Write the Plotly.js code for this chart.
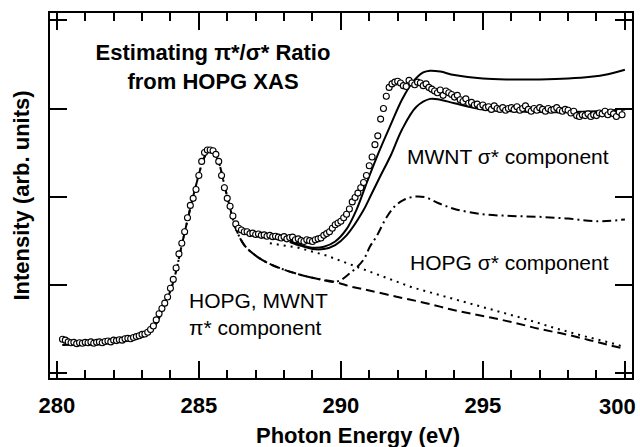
<!DOCTYPE html>
<html>
<head>
<meta charset="utf-8">
<script src="https://cdn.plot.ly/plotly-3.0.1.min.js"></script>
<style>html,body{margin:0;padding:0;background:#fff}#chart{width:640px;height:447px}</style>
</head>
<body>
<div id="chart"></div>
<script>
// Measured XAS data (open circles)
const dataEnergy = [280.2,280.3,280.4,280.5,280.6,280.7,280.8,280.9,281.0,281.1,281.2,281.3,281.4,281.5,281.6,281.7,281.8,281.9,282.0,282.1,282.2,282.3,282.4,282.5,282.6,282.7,282.8,282.9,283.0,283.1,283.2,283.3,283.4,283.5,283.6,283.7,283.8,283.9,284.0,284.1,284.2,284.3,284.4,284.5,284.6,284.7,284.8,284.9,285.0,285.1,285.2,285.3,285.4,285.5,285.6,285.7,285.8,285.9,286.0,286.1,286.2,286.3,286.4,286.5,286.6,286.7,286.8,286.9,287.0,287.1,287.2,287.3,287.4,287.5,287.6,287.7,287.8,287.9,288.0,288.1,288.2,288.3,288.4,288.5,288.6,288.7,288.8,288.9,289.0,289.1,289.2,289.3,289.4,289.5,289.6,289.7,289.8,289.9,290.0,290.1,290.2,290.3,290.4,290.5,290.6,290.7,290.8,290.9,291.0,291.1,291.2,291.3,291.4,291.5,291.6,291.7,291.8,291.9,292.0,292.1,292.2,292.3,292.4,292.5,292.6,292.7,292.8,292.9,293.0,293.1,293.2,293.3,293.4,293.5,293.6,293.7,293.8,293.9,294.0,294.1,294.2,294.3,294.4,294.5,294.6,294.7,294.8,294.9,295.0,295.1,295.2,295.3,295.4,295.5,295.6,295.7,295.8,295.9,296.0,296.1,296.2,296.3,296.4,296.5,296.6,296.7,296.8,296.9,297.0,297.1,297.2,297.3,297.4,297.5,297.6,297.7,297.8,297.9,298.0,298.1,298.2,298.3,298.4,298.5,298.6,298.7,298.8,298.9,299.0,299.1,299.2,299.3,299.4,299.5,299.6,299.7,299.8,299.9];
const dataIntensity = [0.38,0.37,0.35,0.34,0.345,0.33,0.34,0.335,0.345,0.34,0.35,0.335,0.345,0.35,0.34,0.355,0.36,0.35,0.37,0.365,0.375,0.37,0.385,0.39,0.385,0.40,0.41,0.42,0.435,0.44,0.46,0.49,0.53,0.60,0.67,0.73,0.79,0.86,0.96,1.06,1.19,1.35,1.47,1.60,1.76,1.90,1.98,2.08,2.24,2.40,2.50,2.53,2.53,2.52,2.48,2.40,2.24,2.10,1.98,1.89,1.78,1.69,1.64,1.62,1.60,1.60,1.58,1.585,1.57,1.575,1.56,1.565,1.55,1.56,1.545,1.55,1.54,1.53,1.545,1.52,1.535,1.54,1.51,1.52,1.50,1.49,1.51,1.50,1.49,1.51,1.52,1.53,1.56,1.58,1.60,1.64,1.68,1.70,1.72,1.76,1.80,1.86,1.94,1.99,2.04,2.10,2.16,2.24,2.35,2.45,2.59,2.69,2.88,3.00,3.14,3.24,3.28,3.30,3.31,3.29,3.26,3.25,3.32,3.29,3.27,3.30,3.29,3.26,3.28,3.24,3.22,3.20,3.18,3.21,3.15,3.20,3.18,3.16,3.13,3.15,3.10,3.08,3.11,3.06,3.07,3.04,3.05,3.02,3.04,3.01,3.02,2.99,3.03,3.00,2.99,3.01,2.98,3.00,3.01,2.99,3.02,2.98,3.00,3.03,2.99,2.97,3.00,2.98,3.01,2.99,2.97,3.00,2.98,2.99,3.01,2.98,2.97,2.99,2.98,2.95,2.97,2.92,2.91,2.93,2.92,2.94,2.91,2.93,2.92,2.95,2.94,2.97,2.93,2.96,2.94,2.91,2.96,2.93];

// MWNT sigma* fits (two solid curves)
const mwntUpperE = [288.2,288.6,289.0,289.4,289.8,290.2,290.55,290.95,291.37,291.76,292.15,292.53,292.9,293.14,293.5,294.0,295.0,296.0,297.0,298.0,298.8,299.4,300.0];
const mwntUpperI = [1.50,1.45,1.42,1.43,1.49,1.63,1.85,2.19,2.53,2.82,3.10,3.30,3.41,3.43,3.42,3.38,3.34,3.33,3.33,3.34,3.36,3.39,3.44];
const mwntLowerE = [288.2,288.6,289.0,289.4,289.8,290.2,290.77,291.05,291.37,291.76,292.15,292.66,293.14,293.5,294.0,295.0,296.0,297.0,298.0,299.0,300.0];
const mwntLowerI = [1.485,1.44,1.405,1.405,1.45,1.56,1.83,2.01,2.22,2.47,2.76,3.02,3.11,3.10,3.06,2.99,2.97,2.96,2.96,2.97,2.99];

// pi* component (dashed) and HOPG sigma* component (dash-dot)
const piE = [280.2,280.6,281.0,281.5,282.0,282.5,283.0,283.4,283.8,284.1,284.4,284.7,284.95,285.15,285.35,285.5,285.7,285.9,286.1,286.3,286.6,287.0,287.4,288.0,288.6,289.2,289.8,290.4,291.0,292.0,293.0,294.0,295.0,296.0,297.0,298.0,299.0,300.0];
const piI = [0.315,0.326,0.34,0.35,0.36,0.38,0.42,0.51,0.77,1.03,1.45,1.87,2.19,2.41,2.53,2.52,2.39,2.13,1.87,1.64,1.45,1.33,1.25,1.17,1.11,1.065,1.03,0.974,0.934,0.86,0.79,0.71,0.644,0.576,0.497,0.43,0.35,0.27];
const hopgE = [280.2,280.6,281.0,281.5,282.0,282.5,283.0,283.4,283.8,284.1,284.4,284.7,284.95,285.15,285.35,285.5,285.7,285.9,286.1,286.3,286.6,287.0,287.4,288.0,288.6,289.2,289.85,290.32,290.79,291.02,291.26,291.6,291.9,292.2,292.6,293.0,293.4,294.0,295.0,296.0,297.0,298.0,299.0,300.0];
const hopgI = [0.315,0.326,0.34,0.35,0.36,0.38,0.42,0.51,0.77,1.03,1.45,1.87,2.19,2.41,2.53,2.52,2.39,2.13,1.87,1.64,1.45,1.33,1.25,1.17,1.11,1.065,1.034,1.13,1.28,1.43,1.55,1.76,1.89,1.96,2.00,1.99,1.93,1.86,1.80,1.78,1.77,1.75,1.72,1.74];

// Background step (dotted)
const bgE = [287.5,288.5,289.5,290.5,291.5,292.5,293.5,294.5,295.5,296.5,297.5,298.5,299.5,300.0];
const bgI = [1.47,1.42,1.33,1.21,1.09,0.97,0.88,0.79,0.70,0.61,0.51,0.42,0.34,0.29];

const xTicks = [280,285,290,295,300];
const xTickText = ['280','285','290','295',''];   // last label drawn as annotation so it stays inside the page
const lastTickLabel = '300';
const xTitle = 'Photon Energy (eV)';
const yTitle = 'Intensity (arb. units)';

const FONT = "Liberation Sans, Arial, Helvetica, sans-serif";
const boldFont = {family:FONT, size:22, weight:700, color:'#000'};
const lineStyle = (dash, shape) => ({color:'#000', width:2, dash:dash, shape:shape || 'spline'});

const traces = [
  {x: bgE, y: bgI, mode:'lines', line: lineStyle('2px,5px', 'linear'), hoverinfo:'skip'},
  {x: piE, y: piI, mode:'lines', line: lineStyle('9px,5px'), hoverinfo:'skip'},
  {x: hopgE, y: hopgI, mode:'lines', line: lineStyle('9px,4px,2px,4px'), hoverinfo:'skip'},
  {x: mwntUpperE, y: mwntUpperI, mode:'lines', line: lineStyle('solid'), hoverinfo:'skip'},
  {x: mwntLowerE, y: mwntLowerI, mode:'lines', line: lineStyle('solid'), hoverinfo:'skip'},
  {x: dataEnergy, y: dataIntensity, mode:'markers',
   marker:{symbol:'circle', size:6, color:'#fff', line:{color:'#000', width:1.1}}, hoverinfo:'skip'}
];

const layout = {
  width:640, height:447,
  margin:{l:50, r:8, t:13, b:69},
  paper_bgcolor:'#fff', plot_bgcolor:'#fff',
  showlegend:false,
  font:{family:FONT, color:'#000'},
  title:{text:'Estimating π*/σ* Ratio<br>from HOPG XAS', x:(213-50)/582, xref:'paper', xanchor:'center',
         y:1-60/447, yanchor:'middle', font:boldFont},
  xaxis:{range:[279.76,300.25], tickvals:xTicks, ticktext:xTickText,
         ticks:'inside', ticklen:17, tickwidth:2, tickcolor:'#000',
         ticklabelstandoff:7,
         minor:{dtick:1, tick0:280, ticks:'inside', ticklen:8, tickwidth:2, tickcolor:'#000', showgrid:false},
         showline:true, linewidth:2, linecolor:'#000', mirror:'ticks',
         showgrid:false, zeroline:false,
         tickfont:boldFont},
  yaxis:{range:[-0.06,4.085], tick0:0, dtick:1,
         ticks:'inside', ticklen:17, tickwidth:2, tickcolor:'#000',
         showticklabels:false,
         showline:true, linewidth:2, linecolor:'#000', mirror:'ticks',
         showgrid:false, zeroline:false,
         title:{text:yTitle, standoff:12, font:boldFont}},
  annotations:[
    {text:lastTickLabel, x:xTicks[4], xref:'x', xanchor:'center', xshift:-7,
     y:0, yref:'paper', yanchor:'middle', yshift:-28, showarrow:false, font:boldFont},
    {text:xTitle, x:(358-50)/582, xref:'paper', xanchor:'center',
     y:0, yref:'paper', yanchor:'middle', yshift:-57, showarrow:false, font:boldFont},
    {text:'MWNT σ* component', x:292.26, y:2.45, xref:'x', yref:'y', xanchor:'left', yanchor:'middle', showarrow:false,
     font:{family:FONT, size:21, color:'#000'}},
    {text:'HOPG σ* component', x:292.37, y:1.247, xref:'x', yref:'y', xanchor:'left', yanchor:'middle', showarrow:false,
     font:{family:FONT, size:21, color:'#000'}},
    {text:'HOPG, MWNT<br>π* component', x:284.58, y:0.667, xref:'x', yref:'y', xanchor:'left', yanchor:'middle', align:'left', showarrow:false,
     font:{family:FONT, size:21, color:'#000'}}
  ]
};

Plotly.newPlot('chart', traces, layout, {staticPlot:true, displayModeBar:false});
</script>
</body>
</html>
